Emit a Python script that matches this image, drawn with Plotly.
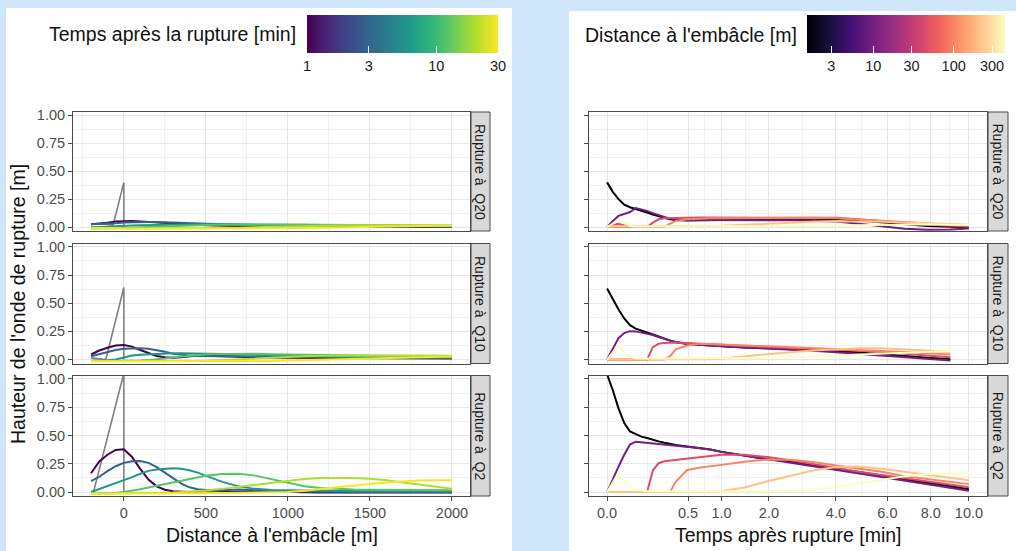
import numpy as np
import plotly.graph_objects as go
from plotly.colors import sample_colorscale
import plotly.express as px

W, H = 1016, 551

# ---------------- data: left panel (height vs distance, one line per time) ----------------
distance_m = [-200, -150, -100, -50, 0, 50, 100, 150, 200, 250, 300, 350, 400, 450, 500,
              600, 700, 800, 900, 1000, 1100, 1200, 1300, 1400, 1500, 1600, 1700, 1800, 1900, 2000]
times_min = [1, 3, 6, 12, 20, 29]

q20_t1 = [0.025, 0.03, 0.04, 0.05, 0.055, 0.055, 0.05, 0.045, 0.04, 0.035, 0.03, 0.026, 0.022, 0.02, 0.017,
          0.012, 0.008, 0.005, 0.003, 0.002, 0.001, 0.0, 0.0, 0.0, 0.0, 0.0, 0.0, 0.0, 0.0, 0.0]
q20_t3 = [0.025, 0.027, 0.03, 0.035, 0.04, 0.044, 0.046, 0.046, 0.045, 0.042, 0.04, 0.037, 0.035, 0.032, 0.03,
          0.026, 0.022, 0.018, 0.015, 0.012, 0.01, 0.008, 0.007, 0.006, 0.005, 0.005, 0.004, 0.004, 0.004, 0.004]
q20_t6 = [0.0, 0.0, 0.004, 0.008, 0.013, 0.015, 0.016, 0.018, 0.02, 0.022, 0.024, 0.025, 0.026, 0.026, 0.026,
          0.025, 0.024, 0.022, 0.02, 0.019, 0.017, 0.015, 0.014, 0.012, 0.011, 0.01, 0.01, 0.009, 0.009, 0.008]
q20_t12 = [-0.01, -0.01, -0.01, -0.01, -0.008, -0.005, -0.001, 0.002, 0.005, 0.008, 0.01, 0.012, 0.014, 0.016, 0.018,
           0.02, 0.022, 0.024, 0.025, 0.025, 0.024, 0.022, 0.02, 0.018, 0.016, 0.015, 0.014, 0.013, 0.012, 0.012]
q20_t20 = [-0.012, -0.012, -0.012, -0.012, -0.012, -0.012, -0.012, -0.012, -0.012, -0.012, -0.012, -0.012, -0.011, -0.011, -0.01,
           -0.008, -0.005, -0.001, 0.003, 0.007, 0.01, 0.013, 0.015, 0.016, 0.017, 0.017, 0.017, 0.017, 0.016, 0.016]
q20_t29 = [-0.005, -0.008, -0.01, -0.012, -0.013, -0.014, -0.014, -0.014, -0.014, -0.014, -0.014, -0.014, -0.014, -0.014, -0.014,
           -0.014, -0.014, -0.013, -0.012, -0.01, -0.008, -0.005, -0.002, 0.001, 0.004, 0.006, 0.008, 0.01, 0.011, 0.012]

q10_t1 = [0.045, 0.08, 0.105, 0.125, 0.13, 0.115, 0.085, 0.055, 0.032, 0.02, 0.015, 0.02, 0.03, 0.035, 0.033,
          0.028, 0.024, 0.02, 0.018, 0.016, 0.015, 0.014, 0.013, 0.012, 0.012, 0.011, 0.011, 0.01, 0.01, 0.01]
q10_t3 = [0.03, 0.05, 0.07, 0.085, 0.095, 0.1, 0.1, 0.095, 0.085, 0.07, 0.052, 0.042, 0.036, 0.032, 0.03,
          0.03, 0.03, 0.027, 0.025, 0.022, 0.02, 0.018, 0.017, 0.016, 0.015, 0.015, 0.014, 0.014, 0.013, 0.013]
q10_t6 = [-0.01, -0.01, -0.006, 0.0, 0.02, 0.035, 0.042, 0.047, 0.05, 0.054, 0.056, 0.056, 0.056, 0.055, 0.053,
          0.05, 0.046, 0.042, 0.037, 0.032, 0.028, 0.026, 0.024, 0.022, 0.021, 0.02, 0.02, 0.019, 0.019, 0.018]
q10_t12 = [-0.012, -0.012, -0.012, -0.012, -0.011, -0.01, -0.008, -0.005, 0.0, 0.01, 0.02, 0.027, 0.034, 0.04, 0.045,
           0.05, 0.052, 0.051, 0.048, 0.046, 0.043, 0.04, 0.037, 0.035, 0.033, 0.031, 0.029, 0.028, 0.027, 0.026]
q10_t20 = [-0.013, -0.013, -0.013, -0.013, -0.013, -0.013, -0.013, -0.013, -0.013, -0.013, -0.012, -0.012, -0.012, -0.011, -0.01,
           -0.005, 0.003, 0.012, 0.02, 0.026, 0.03, 0.033, 0.035, 0.036, 0.036, 0.036, 0.035, 0.035, 0.034, 0.033]
q10_t29 = [-0.015, -0.015, -0.015, -0.015, -0.015, -0.015, -0.015, -0.015, -0.015, -0.015, -0.015, -0.015, -0.015, -0.015, -0.015,
           -0.015, -0.015, -0.014, -0.012, -0.008, -0.004, 0.0, 0.004, 0.008, 0.012, 0.016, 0.019, 0.022, 0.025, 0.027]

q2_t1 = [0.166, 0.27, 0.33, 0.372, 0.378, 0.31, 0.205, 0.11, 0.05, 0.02, 0.008, 0.002, -0.002, -0.004, -0.004,
         0.0, 0.005, 0.008, 0.005, 0.0, -0.002, -0.003, -0.003, -0.003, -0.003, -0.003, -0.003, -0.003, -0.003, -0.003]
q2_t3 = [0.096, 0.135, 0.185, 0.228, 0.258, 0.272, 0.275, 0.258, 0.22, 0.17, 0.12, 0.075, 0.042, 0.025, 0.018,
         0.015, 0.022, 0.02, 0.012, 0.006, 0.003, 0.0, 0.0, 0.0, 0.0, 0.0, 0.0, 0.0, 0.0, 0.0]
q2_t6 = [0.0, 0.025, 0.05, 0.075, 0.103, 0.132, 0.162, 0.187, 0.2, 0.207, 0.21, 0.205, 0.192, 0.172, 0.145,
         0.09, 0.05, 0.028, 0.018, 0.014, 0.012, 0.011, 0.01, 0.01, 0.01, 0.009, 0.009, 0.008, 0.008, 0.008]
q2_t12 = [-0.012, -0.012, -0.01, -0.006, 0.0, 0.01, 0.025, 0.04, 0.055, 0.07, 0.085, 0.1, 0.115, 0.13, 0.143,
          0.16, 0.162, 0.145, 0.115, 0.08, 0.052, 0.035, 0.026, 0.022, 0.02, 0.019, 0.018, 0.017, 0.016, 0.015]
q2_t20 = [-0.012, -0.012, -0.012, -0.012, -0.012, -0.012, -0.011, -0.01, -0.008, -0.006, -0.004, -0.001, 0.003, 0.008, 0.014,
          0.028, 0.045, 0.065, 0.085, 0.102, 0.115, 0.123, 0.126, 0.124, 0.118, 0.105, 0.085, 0.065, 0.045, 0.03]
q2_t29 = [-0.015, -0.015, -0.015, -0.015, -0.015, -0.015, -0.014, -0.014, -0.013, -0.013, -0.012, -0.012, -0.011, -0.011, -0.01,
          -0.009, -0.007, -0.004, -0.002, 0.0, 0.012, 0.025, 0.04, 0.055, 0.07, 0.085, 0.095, 0.102, 0.104, 0.105]

# initial jam profile (grey line)
q20_init_x = [-200, -65, 0, 0]
q20_init_y = [0.03, 0.02, 0.40, 0.0]
q10_init_x = [-200, -110, 0, 0]
q10_init_y = [0.015, 0.0, 0.64, 0.0]
q2_init_x = [-200, -185, 0, 0]
q2_init_y = [0.0, 0.0, 1.05, 0.0]

# ---------------- data: right panel (height vs time, one line per distance) ----------------
distances_m = [1.5, 10, 45, 100, 210, 435]
time_grid = [0, 0.0025, 0.01, 0.0225, 0.04, 0.0625, 0.09, 0.1225, 0.16, 0.2025, 0.25, 0.3025, 0.36, 0.49,
             0.64, 0.81, 1.0, 1.44, 1.96, 2.56, 3.24, 4.0, 4.84, 5.76, 6.76, 7.84, 9.0, 10.0]
time_grid_q10 = [0, 0.0025, 0.01, 0.0225, 0.04, 0.0625, 0.09, 0.1225, 0.16, 0.2025, 0.25, 0.3025, 0.36, 0.49,
                 0.64, 0.81, 1.0, 1.44, 1.96, 2.56, 3.24, 4.0, 4.84, 5.76, 6.76, 7.84, 9.0]

r20_d1 = [0.40, 0.315, 0.25, 0.2, 0.178, 0.164, 0.146, 0.13, 0.113, 0.096, 0.083, 0.07, 0.063, 0.058,
          0.06, 0.063, 0.065, 0.068, 0.071, 0.073, 0.074, 0.072, 0.058, 0.04, 0.022, 0.01, 0.004, 0.0]
r20_d10 = [0.0, 0.055, 0.1, 0.12, 0.135, 0.17, 0.16, 0.145, 0.125, 0.105, 0.09, 0.078, 0.07, 0.063,
           0.062, 0.062, 0.062, 0.062, 0.062, 0.061, 0.058, 0.05, 0.03, 0.005, -0.015, -0.024, -0.022, -0.012]
r20_d45 = [0.0, 0.02, 0.03, 0.015, 0.0, 0.0, 0.0, 0.0, 0.04, 0.07, 0.08, 0.082, 0.083, 0.084,
           0.085, 0.085, 0.085, 0.086, 0.087, 0.088, 0.087, 0.083, 0.07, 0.052, 0.035, 0.022, 0.012, 0.006]
r20_d100 = [0.0, 0.0, 0.0, 0.0, 0.0, 0.0, 0.0, 0.0, 0.0, 0.0, 0.0, 0.03, 0.055, 0.07,
            0.076, 0.078, 0.08, 0.082, 0.084, 0.085, 0.084, 0.08, 0.07, 0.058, 0.045, 0.033, 0.022, 0.015]
r20_d210 = [0.008, 0.008, 0.008, 0.008, 0.008, 0.008, 0.008, 0.008, 0.008, 0.008, 0.008, 0.008, 0.008, 0.008,
            0.008, 0.008, 0.012, 0.02, 0.03, 0.04, 0.047, 0.052, 0.052, 0.048, 0.042, 0.034, 0.027, 0.02]
r20_d435 = [0.0, 0.03, 0.06, 0.04, 0.01, 0.006, 0.006, 0.006, 0.006, 0.006, 0.006, 0.006, 0.006, 0.006,
            0.006, 0.006, 0.006, 0.006, 0.006, 0.006, 0.01, 0.014, 0.018, 0.022, 0.025, 0.025, 0.022, 0.018]

r10_d1 = [0.63, 0.535, 0.445, 0.365, 0.305, 0.275, 0.255, 0.24, 0.222, 0.205, 0.185, 0.168, 0.155, 0.14,
          0.132, 0.125, 0.12, 0.108, 0.1, 0.093, 0.085, 0.075, 0.063, 0.046, 0.03, 0.015, 0.003]
r10_d10 = [0.0, 0.1, 0.19, 0.235, 0.252, 0.25, 0.24, 0.23, 0.218, 0.2, 0.183, 0.167, 0.153, 0.138,
           0.13, 0.123, 0.118, 0.108, 0.1, 0.09, 0.078, 0.065, 0.05, 0.035, 0.02, 0.005, -0.008]
r10_d45 = [0.0, 0.0, 0.0, 0.0, 0.0, 0.0, 0.0, 0.0, 0.11, 0.14, 0.148, 0.152, 0.152, 0.146,
           0.14, 0.135, 0.13, 0.12, 0.112, 0.105, 0.097, 0.088, 0.078, 0.066, 0.052, 0.035, 0.02]
r10_d100 = [0.0, 0.0, 0.0, 0.0, 0.0, 0.0, 0.0, 0.0, 0.0, 0.0, 0.0, 0.03, 0.09, 0.125,
            0.138, 0.138, 0.134, 0.125, 0.118, 0.11, 0.102, 0.095, 0.088, 0.078, 0.068, 0.055, 0.045]
r10_d210 = [0.003, 0.003, 0.003, 0.003, 0.003, 0.003, 0.003, 0.003, 0.003, 0.003, 0.003, 0.003, 0.003, 0.003,
            0.003, 0.003, 0.01, 0.03, 0.048, 0.065, 0.08, 0.092, 0.1, 0.1, 0.092, 0.08, 0.065]
r10_d435 = [0.0, 0.07, 0.13, 0.06, 0.025, 0.012, 0.01, 0.01, 0.01, 0.01, 0.01, 0.01, 0.01, 0.01,
            0.01, 0.01, 0.01, 0.012, 0.015, 0.02, 0.028, 0.037, 0.045, 0.053, 0.06, 0.068, 0.075]

r2_d1 = [1.04, 0.90, 0.74, 0.61, 0.535, 0.51, 0.49, 0.478, 0.46, 0.448, 0.436, 0.424, 0.416, 0.403,
         0.39, 0.375, 0.355, 0.325, 0.29, 0.27, 0.24, 0.21, 0.175, 0.146, 0.113, 0.08, 0.048, 0.024]
r2_d10 = [0.0, 0.12, 0.225, 0.33, 0.42, 0.445, 0.44, 0.435, 0.43, 0.425, 0.42, 0.416, 0.413, 0.405,
          0.39, 0.375, 0.355, 0.322, 0.29, 0.262, 0.228, 0.195, 0.16, 0.128, 0.097, 0.066, 0.036, 0.012]
r2_d45 = [0.0, 0.0, 0.0, 0.0, 0.0, 0.0, 0.0, 0.0, 0.19, 0.255, 0.272, 0.278, 0.282, 0.296,
          0.31, 0.322, 0.33, 0.33, 0.31, 0.28, 0.245, 0.212, 0.18, 0.15, 0.12, 0.09, 0.062, 0.042]
r2_d100 = [0.0, 0.0, 0.0, 0.0, 0.0, 0.0, 0.0, 0.0, 0.0, 0.0, 0.0, 0.0, 0.09, 0.195,
           0.215, 0.225, 0.24, 0.268, 0.288, 0.285, 0.265, 0.235, 0.205, 0.18, 0.14, 0.115, 0.09, 0.07]
r2_d210 = [0.0, 0.0, 0.0, 0.0, 0.0, 0.0, 0.0, 0.0, 0.0, 0.0, 0.0, 0.0, 0.0, 0.0,
           0.0, 0.0, 0.01, 0.04, 0.095, 0.145, 0.19, 0.222, 0.225, 0.205, 0.18, 0.155, 0.128, 0.105]
r2_d435 = [0.0, 0.08, 0.17, 0.1, 0.04, 0.02, 0.012, 0.008, 0.006, 0.005, 0.005, 0.005, 0.005, 0.005,
           0.005, 0.005, 0.005, 0.006, 0.008, 0.012, 0.02, 0.045, 0.075, 0.11, 0.14, 0.16, 0.165, 0.165]

facet_labels = ["Rupture à\u00a0 Q20", "Rupture à\u00a0 Q10", "Rupture à\u00a0 Q2"]
time_cb_range = [1, 30]
time_cb_ticks = [1, 3, 10, 30]
dist_cb_range = [1.5, 435]
dist_cb_ticks = [3, 10, 30, 100, 300]
time_axis_ticks = [0.0, 0.5, 1.0, 2.0, 4.0, 6.0, 8.0, 10.0]
dist_axis_ticks = [0, 500, 1000, 1500, 2000]
height_ticks = [0.0, 0.25, 0.5, 0.75, 1.0]

# ---------------- figure ----------------
FONT = "Liberation Sans, Arial, Helvetica, sans-serif"
BG = "#d0e6fb"
viridis = px.colors.sequential.Viridis
magma = px.colors.sequential.Magma

left_sets = [
    (q20_init_x, q20_init_y, [q20_t1, q20_t3, q20_t6, q20_t12, q20_t20, q20_t29]),
    (q10_init_x, q10_init_y, [q10_t1, q10_t3, q10_t6, q10_t12, q10_t20, q10_t29]),
    (q2_init_x, q2_init_y, [q2_t1, q2_t3, q2_t6, q2_t12, q2_t20, q2_t29]),
]
right_sets = [
    (time_grid, [r20_d1, r20_d10, r20_d45, r20_d100, r20_d210, r20_d435]),
    (time_grid_q10, [r10_d1, r10_d10, r10_d45, r10_d100, r10_d210, r10_d435]),
    (time_grid, [r2_d1, r2_d10, r2_d45, r2_d100, r2_d210, r2_d435]),
]

tl0, tl1 = np.log10(time_cb_range)
dl0, dl1 = np.log10(dist_cb_range)

fig = go.Figure()

for i, (gx, gy, series) in enumerate(left_sets):
    ax = "" if i == 0 else str(i + 1)
    fig.add_trace(go.Scatter(x=gx, y=gy, mode="lines", line=dict(color="#808080", width=1.6),
                             xaxis="x" + ax, yaxis="y" + ax, showlegend=False, hoverinfo="skip"))
    for t, hv in zip(times_min, series):
        c = sample_colorscale(viridis, [(np.log10(t) - tl0) / (tl1 - tl0)])[0]
        fig.add_trace(go.Scatter(x=distance_m, y=hv, mode="lines", line=dict(color=c, width=2),
                                 xaxis="x" + ax, yaxis="y" + ax, showlegend=False,
                                 name=f"{t} min"))

for i, (tg, series) in enumerate(right_sets):
    ax = str(i + 4)
    xs = np.sqrt(np.array(tg))
    for d, hv in zip(distances_m, series):
        c = sample_colorscale(magma, [(np.log10(d) - dl0) / (dl1 - dl0)])[0]
        fig.add_trace(go.Scatter(x=xs, y=hv, mode="lines", line=dict(color=c, width=2),
                                 xaxis="x" + ax, yaxis="y" + ax, showlegend=False,
                                 name=f"{d} m", customdata=tg))

# colorbar carriers
fig.add_trace(go.Scatter(x=[None], y=[None], mode="markers",
                         marker=dict(color=[tl0], coloraxis="coloraxis"), showlegend=False, hoverinfo="skip"))
fig.add_trace(go.Scatter(x=[None], y=[None], mode="markers",
                         marker=dict(color=[dl0], coloraxis="coloraxis2"), showlegend=False, hoverinfo="skip",
                         xaxis="x4", yaxis="y4"))

px_ = lambda v: v / W
py_ = lambda v: 1 - v / H

left_x = [px_(73), px_(470)]
right_x = [px_(589), px_(987)]
rows_px = [(112, 231), (243.5, 363.5), (375.5, 496)]
row_dom = [[py_(b), py_(a)] for a, b in rows_px]

tick_font = dict(family=FONT, size=14.5, color="#4d4d4d")
GRID = "#e6e6e6"
MINOR = "#f1f1f1"
LINE = "#4a4a4a"

sq_ticks = np.sqrt(np.array(time_axis_ticks))
sq_minor = (sq_ticks[:-1] + sq_ticks[1:]) / 2

layout_axes = {}
for i in range(6):
    n = i + 1
    key = "" if n == 1 else str(n)
    row = i % 3
    is_left = i < 3
    bottom = row == 2
    xa = dict(domain=left_x if is_left else right_x, anchor="y" + key,
              showline=True, mirror=True, linecolor=LINE, linewidth=1,
              showgrid=True, gridcolor=GRID, gridwidth=1.1, zeroline=False,
              ticks="outside" if bottom else "", ticklen=4, tickcolor=LINE,
              showticklabels=bottom, tickfont=tick_font)
    if is_left:
        xa.update(range=[-310, 2110], tickmode="array", tickvals=dist_axis_ticks,
                  ticktext=[str(v) for v in dist_axis_ticks],
                  minor=dict(tickvals=[-250, 250, 750, 1250, 1750], showgrid=True,
                             gridcolor=MINOR, gridwidth=0.8, ticks=""))
    else:
        xa.update(range=[-0.158, 3.32], tickmode="array", tickvals=list(sq_ticks),
                  ticktext=[f"{v:.1f}" for v in time_axis_ticks],
                  minor=dict(tickvals=list(sq_minor), showgrid=True,
                             gridcolor=MINOR, gridwidth=0.8, ticks=""))
    ya = dict(domain=row_dom[row], anchor="x" + key, range=[-0.035, 1.03],
              showline=True, mirror=True, linecolor=LINE, linewidth=1,
              showgrid=True, gridcolor=GRID, gridwidth=1.1, zeroline=False,
              tickmode="array", tickvals=height_ticks,
              ticktext=[f"{v:.2f}" for v in height_ticks],
              ticks="outside", ticklen=4, tickcolor=LINE,
              showticklabels=is_left, tickfont=tick_font,
              minor=dict(tickvals=[0.125, 0.375, 0.625, 0.875], showgrid=True,
                         gridcolor=MINOR, gridwidth=0.8, ticks=""))
    layout_axes["xaxis" + key] = xa
    layout_axes["yaxis" + key] = ya

shapes = [
    dict(type="rect", xref="paper", yref="paper", x0=px_(6), x1=px_(512), y0=py_(551), y1=py_(8),
         fillcolor="white", line=dict(width=0), layer="below"),
    dict(type="rect", xref="paper", yref="paper", x0=px_(569), x1=px_(1016), y0=py_(551), y1=py_(11),
         fillcolor="white", line=dict(width=0), layer="below"),
]
annotations = []
for (a, b) in rows_px:
    for sx0, sx1 in [(471, 490), (988, 1008)]:
        shapes.append(dict(type="rect", xref="paper", yref="paper", x0=px_(sx0), x1=px_(sx1),
                           y0=py_(b), y1=py_(a), fillcolor="#d9d9d9",
                           line=dict(color=LINE, width=1), layer="above"))
for r, (a, b) in enumerate(rows_px):
    for sx in [480.5, 998]:
        annotations.append(dict(x=px_(sx), y=py_((a + b) / 2), xref="paper", yref="paper",
                                xanchor="center", yanchor="middle",
                                text=facet_labels[r], textangle=90, showarrow=False,
                                font=dict(family=FONT, size=14, color="#1a1a1a")))

# white tick marks on the top edge of the colour bars (as ggplot draws them)
CB_TOP = 15
for vals, v0, v1, xl, ln in [(time_cb_ticks, tl0, tl1, 307, 191), (dist_cb_ticks, dl0, dl1, 807, 198)]:
    for v in vals:
        xx = xl + (np.log10(v) - v0) / (v1 - v0) * ln
        shapes.append(dict(type="line", xref="paper", yref="paper", x0=px_(xx), x1=px_(xx),
                           y0=py_(CB_TOP), y1=py_(CB_TOP + 7), line=dict(color="white", width=1.2),
                           layer="above"))

title_font = dict(family=FONT, size=19.5, color="#111111")
annotations += [
    dict(x=px_(18), y=py_(304), xref="paper", yref="paper", text="Hauteur de l'onde de rupture [m]",
         xanchor="center", yanchor="middle", textangle=-90, showarrow=False, font=title_font),
    dict(x=px_(271.5), y=py_(535), xref="paper", yref="paper", text="Distance à l'embâcle [m]",
         xanchor="center", yanchor="middle", showarrow=False, font=title_font),
    dict(x=px_(788), y=py_(535), xref="paper", yref="paper", text="Temps après rupture [min]",
         xanchor="center", yanchor="middle", showarrow=False, font=title_font),
    dict(x=px_(298), y=py_(34), xref="paper", yref="paper", text="Temps après la rupture [min]",
         xanchor="right", yanchor="middle", showarrow=False, font=title_font),
    dict(x=px_(799), y=py_(35), xref="paper", yref="paper", text="Distance à l'embâcle [m]",
         xanchor="right", yanchor="middle", showarrow=False, font=title_font),
]

cb_common = dict(orientation="h", lenmode="pixels", thicknessmode="pixels", thickness=38,
                 outlinewidth=0, xanchor="left", yanchor="top", xpad=0, ypad=0,
                 ticks="inside", ticklen=7, tickcolor="white", tickwidth=1.2,
                 tickfont=dict(family=FONT, size=14.5, color="#1a1a1a"))

fig.update_layout(
    width=W, height=H, margin=dict(l=0, r=0, t=0, b=0, autoexpand=False),
    paper_bgcolor=BG, plot_bgcolor="white",
    font=dict(family=FONT),
    shapes=shapes, annotations=annotations,
    coloraxis=dict(colorscale="Viridis", cmin=tl0, cmax=tl1,
                   colorbar=dict(cb_common, x=px_(307), y=py_(CB_TOP), len=191,
                                 tickvals=list(np.log10(time_cb_ticks)),
                                 ticktext=[str(v) for v in time_cb_ticks])),
    coloraxis2=dict(colorscale="Magma", cmin=dl0, cmax=dl1,
                    colorbar=dict(cb_common, x=px_(807), y=py_(CB_TOP), len=198,
                                  tickvals=list(np.log10(dist_cb_ticks)),
                                  ticktext=[str(v) for v in dist_cb_ticks])),
    **layout_axes,
)

fig.write_html(
    "out.html",
    config={"displayModeBar": False},
    post_script=(
        "document.documentElement.style.margin='0';"
        "document.body.style.margin='0';document.body.style.padding='0';"
        "document.body.style.background='" + BG + "';"
    ),
)
